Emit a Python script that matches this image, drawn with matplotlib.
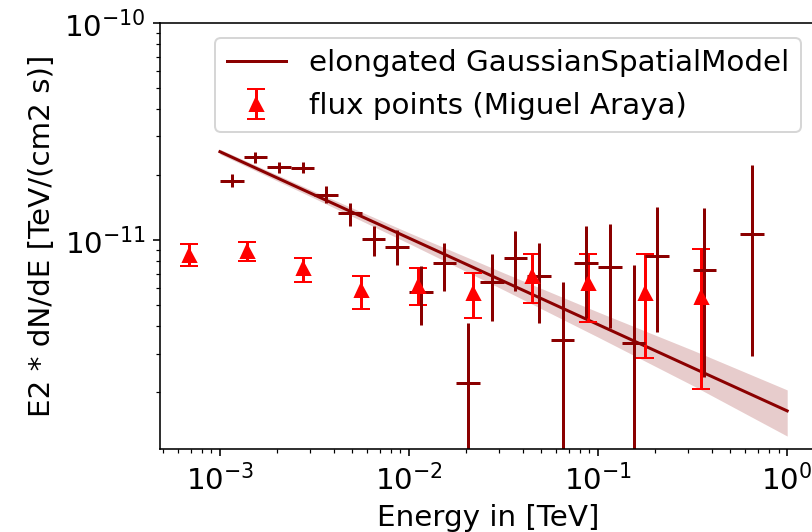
import numpy as np
import matplotlib
matplotlib.use("Agg")
import matplotlib.pyplot as plt

plt.rcParams['font.size'] = 14.7

# model (power law fit, read at a few energies) and its error band
model_e = [1e-3, 3.16e-3, 1e-2, 3.16e-2, 1e-1, 3.16e-1, 1.0]
model_f = [2.553e-11, 1.614e-11, 1.021e-11, 6.46e-12, 4.08e-12, 2.58e-12, 1.633e-12]
model_hi = [2.62e-11, 1.675e-11, 1.081e-11, 7.07e-12, 4.66e-12, 3.11e-12, 2.04e-12]
model_lo = [2.49e-11, 1.556e-11, 0.964e-11, 5.90e-12, 3.57e-12, 2.14e-12, 1.25e-12]

# flux points (Miguel Araya)
ref_e = [6.88e-4, 1.384e-3, 2.76e-3, 5.55e-3, 1.12e-2, 2.19e-2, 4.46e-2, 8.89e-2, 0.176, 0.349]
ref_f = [8.50e-12, 8.92e-12, 7.45e-12, 5.86e-12, 6.15e-12, 5.70e-12, 6.84e-12, 6.36e-12, 5.68e-12, 5.48e-12]
ref_hi = [9.55e-12, 9.82e-12, 8.29e-12, 6.85e-12, 7.41e-12, 7.06e-12, 8.62e-12, 8.62e-12, 8.62e-12, 9.09e-12]
ref_lo = [7.59e-12, 8.03e-12, 6.42e-12, 4.80e-12, 5.01e-12, 4.38e-12, 5.14e-12, 4.18e-12, 2.85e-12, 2.05e-12]

# fitted flux points (8 bins per decade)
fp_emin = [1.0e-3, 1.334e-3, 1.778e-3, 2.371e-3, 3.162e-3, 4.217e-3, 5.623e-3, 7.499e-3,
           1.0e-2, 1.334e-2, 1.778e-2, 2.371e-2, 3.162e-2, 4.217e-2, 5.623e-2, 7.499e-2,
           0.1, 0.1334, 0.1778, 0.3162, 0.5623]
fp_emax = [1.334e-3, 1.778e-3, 2.371e-3, 3.162e-3, 4.217e-3, 5.623e-3, 7.499e-3, 1.0e-2,
           1.334e-2, 1.778e-2, 2.371e-2, 3.162e-2, 4.217e-2, 5.623e-2, 7.499e-2, 0.1,
           0.1334, 0.1778, 0.2371, 0.4217, 0.7499]
fp_f = [1.874e-11, 2.42e-11, 2.16e-11, 2.15e-11, 1.62e-11, 1.327e-11, 1.007e-11, 9.31e-12,
        5.74e-12, 7.81e-12, 2.19e-12, 6.38e-12, 8.29e-12, 6.84e-12, 3.46e-12, 7.86e-12,
        7.54e-12, 3.35e-12, 8.44e-12, 7.28e-12, 1.069e-11]
fp_hi = [2.01e-11, 2.54e-11, 2.30e-11, 2.29e-11, 1.774e-11, 1.483e-11, 1.16e-11, 1.112e-11,
         7.59e-12, 9.68e-12, 4.15e-12, 8.61e-12, 1.10e-11, 9.68e-12, 6.40e-12, 1.165e-11,
         1.185e-11, 7.67e-12, 1.42e-11, 1.40e-11, 2.22e-11]
fp_lo = [1.75e-11, 2.26e-11, 2.04e-11, 2.03e-11, 1.483e-11, 1.16e-11, 8.44e-12, 7.67e-12,
         4.06e-12, 5.82e-12, 1e-14, 4.24e-12, 5.82e-12, 4.15e-12, 1e-14, 4.37e-12,
         3.93e-12, 1e-14, 3.77e-12, 2.34e-12, 2.92e-12]

fig = plt.figure(figsize=(812 / 144, 532 / 144), dpi=144)
ax = fig.add_axes([160 / 812, 83 / 532, 656 / 812, 426 / 532])

ax.fill_between(model_e, model_lo, model_hi, color='darkred', alpha=0.2, lw=0)
ax.plot(model_e, model_f, color='darkred', label='elongated GaussianSpatialModel')

ref_e = np.array(ref_e)
ref_f = np.array(ref_f)
ax.errorbar(ref_e, ref_f, yerr=[ref_f - np.array(ref_lo), np.array(ref_hi) - ref_f],
            fmt='^', color='red', ms=6.5, capsize=4.5, label='flux points (Miguel Araya)')

fp_emin = np.array(fp_emin)
fp_emax = np.array(fp_emax)
fp_e = np.sqrt(fp_emin * fp_emax)
fp_f = np.array(fp_f)
ax.errorbar(fp_e, fp_f, xerr=[fp_e - fp_emin, fp_emax - fp_e],
            yerr=[fp_f - np.array(fp_lo), np.array(fp_hi) - fp_f],
            fmt='none', color='darkred')

ax.set_xscale('log')
ax.set_yscale('log')
ax.set_xlim(4.82e-4, 1.42)
ax.set_ylim(1.09e-12, 1e-10)
ax.set_xlabel('Energy in [TeV]')
ax.set_ylabel('E2 * dN/dE [TeV/(cm2 s)]')
ax.legend(loc='upper right')

fig.savefig('out.png', dpi=144)
